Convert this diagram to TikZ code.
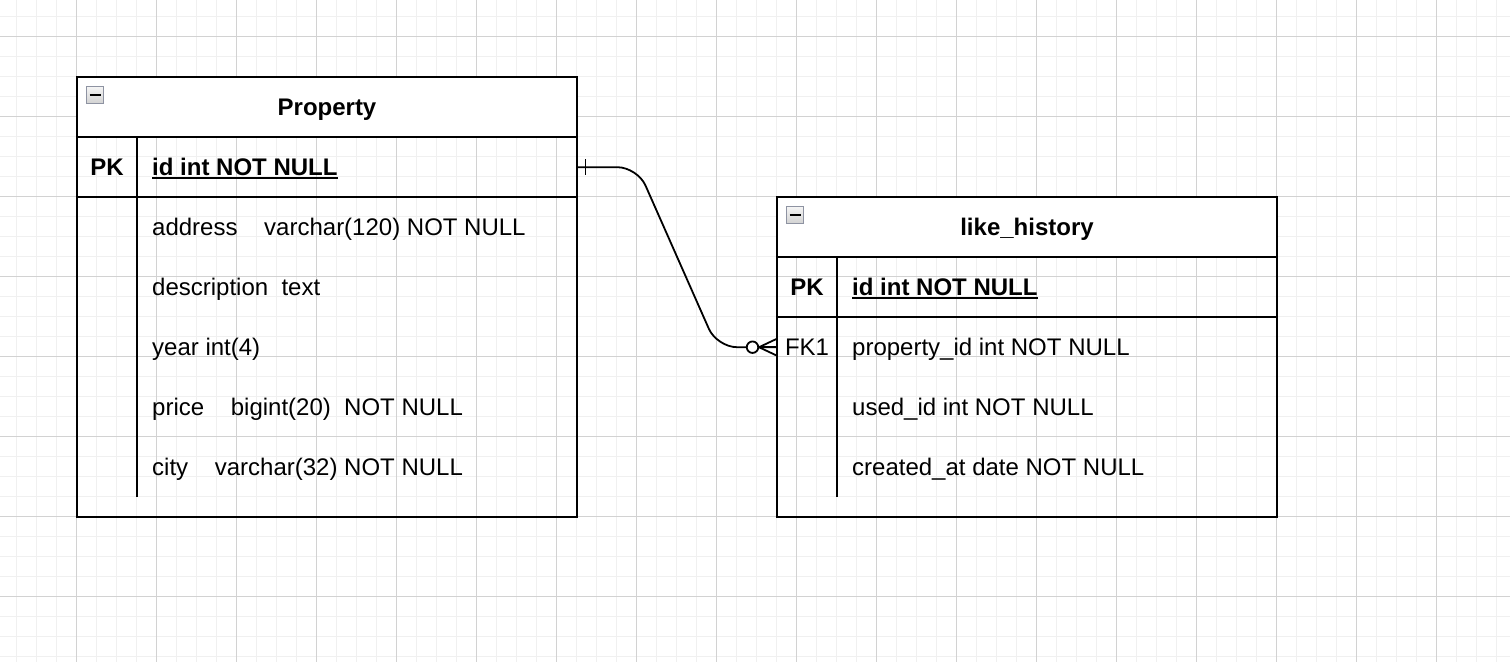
\documentclass[tikz,border=0pt]{standalone}
\usepackage{fontspec}
\setmainfont{Liberation Sans}
\usetikzlibrary{calc}
\definecolor{gridmin}{HTML}{F0F0F0}
\definecolor{gridmaj}{HTML}{D2D2D2}
\definecolor{iconborder}{HTML}{8E93A2}
\tikzset{
  gminor/.style={draw=gridmin, line width=1pt},
  gmajor/.style={draw=gridmaj, line width=1pt},
  tblline/.style={draw=black, line width=2pt},
  titlebox/.style={fill=white, draw=none, minimum width=500pt, minimum height=60pt, anchor=north west, inner sep=0},
  rowbox/.style={draw=none, minimum width=500pt, minimum height=60pt, anchor=north west, inner sep=0},
  icon/.style={draw=iconborder, line width=1.3pt, top color=gray!8, bottom color=gray!35, minimum size=17pt, inner sep=0},
  txt/.style={anchor=base west, inner sep=0, font=\fontsize{24}{28}\selectfont},
  ctxt/.style={anchor=base, inner sep=0, font=\fontsize{24}{28}\selectfont},
  conn/.style={draw=black, line width=1.8pt},
}
\begin{document}
\begin{tikzpicture}[x=1pt,y=-1pt]
\useasboundingbox (0,0) rectangle (1510,662);
\fill[white] (0,0) rectangle (1510,662);
% grid
\foreach \k in {0,...,74} { \draw[gminor] (16.7+20*\k,0) -- (16.7+20*\k,662); }
\foreach \k in {0,...,32} { \draw[gminor] (0,16.7+20*\k) -- (1510,16.7+20*\k); }
\foreach \k in {0,...,18} { \draw[gmajor] (76.7+80*\k,0) -- (76.7+80*\k,662); }
\foreach \k in {0,...,7} { \draw[gmajor] (0,36.7+80*\k) -- (1510,36.7+80*\k); }

% ---------- Property table ----------
\node[titlebox] (prop-title) at (77,77) {};
\node[rowbox] (prop-pk) at (77,137) {};
\draw[tblline] (77,77) rectangle (577,517);
\draw[tblline] (77,137) -- (577,137);
\draw[tblline] (77,197) -- (577,197);
\draw[tblline] (137,137) -- (137,497);
\node[icon] (prop-icon) at (95,95) {};
\draw[line width=2.2pt] (89.5,95) -- (100.5,95);
\node[ctxt, font=\fontsize{24}{28}\selectfont\bfseries] (prop-name) at (327,115.5) {Property};
\node[ctxt, font=\fontsize{24}{28}\selectfont\bfseries] (prop-pkl) at (107,175.5) {PK};
\node[txt, font=\fontsize{24}{28}\selectfont\bfseries] (prop-pkt) at (152,175.5) {id int NOT NULL};
\draw[line width=2pt] ([yshift=-2.7pt]prop-pkt.base west) -- ([yshift=-2.7pt]prop-pkt.base east);
\node[txt] (prop-r1) at (152,235.5) {address\ \ \ \ varchar(120) NOT NULL};
\node[txt] (prop-r2) at (152,295.5) {description\ \ text};
\node[txt] (prop-r3) at (152,355.5) {year int(4)};
\node[txt] (prop-r4) at (152,415.5) {price\ \ \ \ bigint(20)\ \ NOT NULL};
\node[txt] (prop-r5) at (152,475.5) {city\ \ \ \ varchar(32) NOT NULL};

% ---------- like_history table ----------
\node[titlebox] (lh-title) at (777,197) {};
\node[rowbox] (lh-fk) at (777,317) {};
\draw[tblline] (777,197) rectangle (1277,517);
\draw[tblline] (777,257) -- (1277,257);
\draw[tblline] (777,317) -- (1277,317);
\draw[tblline] (837,257) -- (837,497);
\node[icon] (lh-icon) at (795,215) {};
\draw[line width=2.2pt] (789.5,215) -- (800.5,215);
\node[ctxt, font=\fontsize{24}{28}\selectfont\bfseries] (lh-name) at (1027,235.5) {like\_history};
\node[ctxt, font=\fontsize{24}{28}\selectfont\bfseries] (lh-pkl) at (807,295.5) {PK};
\node[txt, font=\fontsize{24}{28}\selectfont\bfseries] (lh-pkt) at (852,295.5) {id int NOT NULL};
\draw[line width=2pt] ([yshift=-2.7pt]lh-pkt.base west) -- ([yshift=-2.7pt]lh-pkt.base east);
\node[ctxt] (lh-fkl) at (807,355.5) {FK1};
\node[txt] (lh-r1) at (852,355.5) {property\_id int NOT NULL};
\node[txt] (lh-r2) at (852,415.5) {used\_id int NOT NULL};
\node[txt] (lh-r3) at (852,475.5) {created\_at date NOT NULL};

% ---------- relationship ----------
\coordinate (c-start) at (prop-pk.east);
\coordinate (c-end) at (lh-fk.west);
\draw[conn, rounded corners=20pt] (c-start) -- ++(60,0) -- ($(c-end)+(-60,0)$) -- (c-end);
\draw[conn] ($(c-start)+(8,-8)$) -- ($(c-start)+(8,8)$);
\coordinate (c-foot) at ($(c-end)+(-18,0)$);
\draw[conn] (c-foot) -- ($(c-end)+(0,-8.5)$);
\draw[conn] (c-foot) -- (c-end);
\draw[conn] (c-foot) -- ($(c-end)+(0,8.5)$);
\node[circle, draw=black, line width=1.8pt, fill=white, minimum size=11.5pt, inner sep=0] (c-circ) at ($(c-end)+(-24.5,0)$) {};
\end{tikzpicture}
\end{document}
